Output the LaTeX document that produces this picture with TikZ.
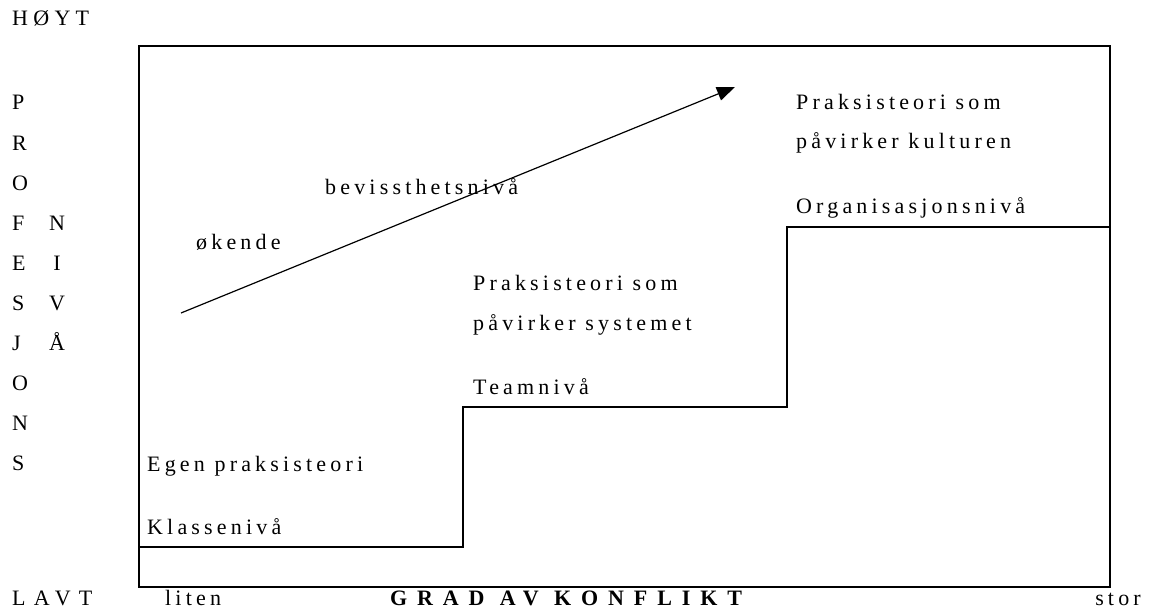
\documentclass[tikz,border=0pt]{standalone}
\usepackage{fontspec}
\setmainfont{Liberation Serif}[LetterSpace=19]
\newfontfamily\topfont{Liberation Serif}[LetterSpace=24]
\newfontfamily\lowfont{Liberation Serif}[LetterSpace=37]
\newfontfamily\headfont{Liberation Serif}[LetterSpace=45]
\usetikzlibrary{arrows.meta}
\begin{document}
\begin{tikzpicture}[x=1pt,y=-1pt,
  txt/.style={inner sep=0pt,font=\fontsize{22}{26}\selectfont},
  lbl/.style={txt,anchor=base west},
  vlbl/.style={txt,anchor=base},
  frame/.style={line width=1.4pt},
  stair/.style={line width=1.4pt},
  trend/.style={line width=1.2pt,-{Triangle[length=18pt,width=14pt]}}]
\useasboundingbox (0,0) rectangle (1152,615);

% outer frame
\draw[frame] (139,46) rectangle (1110,587);

% staircase of levels
\coordinate (s0) at (139,547);
\coordinate (s1) at (463,547);
\coordinate (s2) at (463,407);
\coordinate (s3) at (787,407);
\coordinate (s4) at (787,227);
\coordinate (s5) at (1110,227);
\draw[stair] (s0) -- (s1) -- (s2) -- (s3) -- (s4) -- (s5);

% rising awareness arrow
\coordinate (a0) at (181,313);
\coordinate (a1) at (735,87);
\draw[trend] (a0) -- (a1);

% vertical axis
\node[inner sep=0pt,anchor=base west,font=\fontsize{22}{26}\topfont] (hoyt) at (12,26) {HØYT};
\foreach \ch [count=\i from 0] in {P,R,O,F,E,S,J,O,N,S}
  \node[lbl] (p\i) at (12,{110+40.1*\i}) {\ch};
\foreach \ch [count=\i from 3] in {N,I,V,Å}
  \node[vlbl] (n\i) at (57,{110+40.1*\i}) {\ch};
\node[inner sep=0pt,anchor=base west,font=\fontsize{22}{26}\lowfont] (lavt) at (12,605) {LAVT};

% horizontal axis
\node[lbl] (liten) at (165,605) {liten};
\node[anchor=base,inner sep=0pt,font=\fontsize{22}{26}\headfont\bfseries] (grad) at (566,605) {GRAD AV KONFLIKT};
\node[txt,anchor=base east] (stor) at (1141,605) {stor};

% level texts
\node[lbl] (t1) at (796,110) {Praksisteori som};
\node[lbl] (t2) at (796,149) {påvirker kulturen};
\node[lbl] (t3) at (796,213) {Organisasjonsnivå};
\node[lbl] (t4) at (325,195) {bevissthetsnivå};
\node[lbl] (t5) at (196,249) {økende};
\node[lbl] (t6) at (473,290) {Praksisteori som};
\node[lbl] (t7) at (473,330) {påvirker systemet};
\node[lbl] (t8) at (473,394) {Teamnivå};
\node[lbl] (t9) at (147,471) {Egen praksisteori};
\node[lbl] (t10) at (147,534) {Klassenivå};
\end{tikzpicture}
\end{document}
